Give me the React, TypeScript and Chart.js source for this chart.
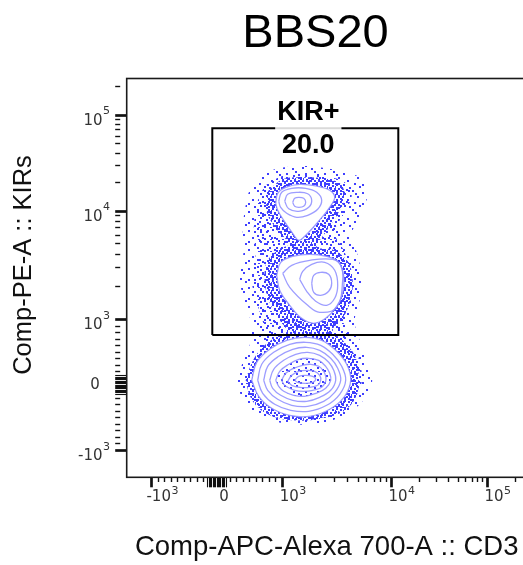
import React, { useEffect, useRef } from 'react';
import { Chart, registerables } from 'chart.js';

Chart.register(...registerables);

// ---------- Axis (biexponential display, in display channels) ----------
const AXIS_VALUES = [-1000, 0, 1000, 10000, 100000];
const AXIS_CHANNELS = [25, 90.3, 155.6, 264.3, 360.3];
const TICK_BASES = ['-10', '0', '10', '10', '10'];
const TICK_EXPONENTS = ['3', '', '3', '4', '5'];
const MINOR_TICK_VALUES = [
  -900, -800, -700, -600, -500, -400, -300, -200,
  200, 300, 400, 500, 600, 700, 800, 900,
  2000, 3000, 4000, 5000, 6000, 7000, 8000, 9000,
  20000, 30000, 40000, 50000, 60000, 70000, 80000, 90000, 200000,
];
const ZERO_BAND_TICK_VALUES = [
  -140, -120, -100, -80, -60, -40, -20, 0, 20, 40, 60, 80, 100, 120, 140,
];
const X_RANGE = [0, 400];
const Y_RANGE = [-2, 396.8];

// ---------- Texts ----------
const TITLE = 'BBS20';
const X_TITLE = 'Comp-APC-Alexa 700-A :: CD3';
const Y_TITLE = 'Comp-PE-A :: KIRs';
const GATE_NAME = 'KIR+';
const GATE_PERCENT = '20.0';

// ---------- Gate (display channels) ----------
const GATE_X = [85.6, 271.6];
const GATE_Y = [140.3, 347];

// ---------- Contours, KIR+ upper population (CD3 ch, KIR ch) ----------
const UPPER_RING_1 = [[166, 273], [168, 277], [172, 278], [177, 277], [179, 273], [177, 269], [172, 268], [168, 269]];
const UPPER_RING_2 = [[158, 274], [161, 281], [171, 283], [181, 281.5], [185, 275], [182, 268], [172, 264], [162, 266.5]];
const UPPER_RING_3 = [[152, 274], [155, 283], [165, 287], [179, 287], [190, 283], [195, 275], [191, 266], [181, 260], [170, 258], [160, 262], [154, 268]];
const UPPER_RING_4 = [[149, 272], [151, 282], [159, 288], [173, 291], [191, 289], [203, 285], [208, 278], [203, 268], [191, 253], [178, 239], [172, 235], [166, 242], [157, 255], [151, 265]];

// ---------- Contours, KIR+ middle population ----------
const MIDDLE_RING_1 = [[185, 192], [187, 200], [194, 203], [202, 201], [205, 192], [202, 184], [194, 180], [187, 183]];
const MIDDLE_RING_2 = [[173, 196], [176, 204], [185, 211], [198, 213], [208, 205], [211, 190], [208, 177], [200, 170], [189, 174], [180, 184]];
const MIDDLE_RING_3 = [[156, 202], [165, 210], [183, 215], [206, 216], [214, 210], [216, 195], [210, 168], [193, 163], [181, 170], [163, 188]];
const MIDDLE_RING_4 = [[150, 200], [154, 213], [166, 219], [183, 221], [200, 219], [212, 213], [217, 199], [216, 182], [210, 169], [199, 157], [187, 152], [175, 157], [163, 170], [153, 185]];

// ---------- Contours, KIR- population ----------
const LOWER_RING_1 = [[125, 95], [130, 113], [143, 126], [160, 135], [178, 138], [195, 135], [209, 125], [220, 111], [224, 95], [218, 79], [203, 66], [183, 59], [163, 60], [145, 67], [132, 79]];
const LOWER_RING_2 = [[131, 95], [135, 111], [147, 123], [163, 131], [179, 133], [194, 130], [206, 121], [215, 109], [219, 95], [213, 81], [200, 70], [182, 64], [164, 65], [148, 71], [136, 82]];
const LOWER_RING_3 = [[137, 95], [141, 109], [152, 119], [166, 126], [180, 128], [193, 125], [204, 117], [211, 107], [214, 95], [208, 83], [197, 74], [181, 69], [165, 70], [151, 76], [141, 85]];
const LOWER_RING_4 = [[143, 95], [147, 106], [157, 115], [169, 121], [181, 123], [193, 120], [202, 113], [207, 105], [209, 95], [204, 85], [193, 78], [180, 74], [166, 75], [154, 80], [146, 87]];
const LOWER_RING_5 = [[149, 95], [153, 104], [162, 111], [172, 116], [182, 117], [192, 115], [199, 109], [203, 102], [204, 95], [199, 87], [189, 82], [178, 79], [167, 80], [157, 84], [152, 89]];
const LOWER_RING_6 = [[155, 95], [159, 102], [167, 107], [176, 110], [184, 111], [192, 109], [197, 104], [199, 99], [199, 94], [195, 88], [186, 85], [177, 84], [168, 85], [161, 88], [157, 91]];
const LOWER_RING_7 = [[161, 94], [165, 100], [172, 104], [180, 105], [188, 104], [193, 100], [194, 95], [191, 90], [183, 88], [173, 88], [165, 90]];
const LOWER_RING_8 = [[168, 95], [172, 99], [179, 100], [186, 99], [189, 96], [186, 93], [178, 92], [171, 93]];

// ---------- Outlier event clouds (outlines of the dotted areas) ----------
const CLOUD_SPARSE = [[131, 295], [145, 305], [168, 309], [193, 308], [218, 303], [238, 295], [241, 280], [233, 260], [225, 240], [231, 220], [235, 197], [233, 175], [228, 153], [235, 130], [243, 110], [245, 90], [235, 73], [218, 60], [193, 52], [165, 51], [138, 57], [121, 70], [111, 90], [115, 110], [123, 130], [125, 150], [117, 175], [113, 200], [117, 225], [116, 247], [119, 270], [123, 285]];
const CLOUD_MEDIUM = [[139, 290], [155, 299], [175, 301], [198, 299], [218, 293], [225, 280], [218, 263], [208, 243], [218, 223], [225, 200], [223, 175], [217, 153], [225, 133], [233, 113], [235, 93], [227, 75], [211, 63], [188, 56], [163, 55], [141, 61], [127, 73], [119, 90], [123, 108], [133, 125], [138, 143], [131, 170], [125, 195], [129, 220], [127, 243], [129, 265], [133, 280]];
const CLOUD_DENSE = [[141, 284], [156, 296], [175, 298], [196, 297], [213, 292], [218, 280], [212, 263], [199, 243], [190, 228], [205, 226], [221, 214], [226, 195], [224, 175], [216, 157], [206, 145], [216, 135], [228, 120], [232, 100], [230, 80], [217, 64], [191, 56], [165, 55], [141, 61], [126, 74], [120, 93], [124, 110], [134, 126], [150, 139], [160, 144], [150, 159], [142, 175], [138, 193], [140, 213], [152, 226], [162, 231], [150, 246], [140, 263]];

// ---------- Styles ----------
const DOT_COLOR = 'rgb(62,62,255)';
const CONTOUR_COLOR = 'rgba(140,140,255,0.85)';
const SPARSE_TILE = { size: 19, dots: [[1, 2], [10, 0], [15, 6], [5, 9], [12, 12], [17, 15], [7, 16], [1, 13], [13, 3]] };
const MEDIUM_TILE = { size: 12, dots: [[2, 3], [8, 1], [5, 7], [10, 9], [0, 10], [6, 11]] };
const DENSE_TILE = { size: 8, dots: [[0, 0], [4, 1], [6, 4], [2, 4], [4, 6], [0, 7], [7, 2]] };
const SANS = '"Liberation Sans", Arial, Helvetica, sans-serif';
const TICK_FONT = '"DejaVu Sans", Verdana, sans-serif';

function toChannel(v: number): number {
  const V = AXIS_VALUES;
  const C = AXIS_CHANNELS;
  if (v <= V[2]) {
    const slope = (C[2] - C[0]) / (V[2] - V[0]);
    return C[1] + v * slope;
  }
  for (let i = 2; i < V.length - 1; i++) {
    if (v <= V[i + 1]) {
      const t = (Math.log10(v) - Math.log10(V[i])) / (Math.log10(V[i + 1]) - Math.log10(V[i]));
      return C[i] + t * (C[i + 1] - C[i]);
    }
  }
  const n = V.length - 1;
  const perDecade = (C[n] - C[n - 1]) / (Math.log10(V[n]) - Math.log10(V[n - 1]));
  return C[n] + (Math.log10(v) - Math.log10(V[n])) * perDecade;
}

const TICK_LIST = [
  ...ZERO_BAND_TICK_VALUES.map((v) => ({ value: toChannel(v), kind: 'band' })),
  ...MINOR_TICK_VALUES.map((v) => ({ value: toChannel(v), kind: 'minor' })),
  ...AXIS_VALUES.filter((v) => v !== 0).map((v) => ({ value: toChannel(v), kind: 'major' })),
].sort((a, b) => a.value - b.value);

const kindOf = (ctx: any) => (ctx && ctx.tick ? ctx.tick.kind : 'minor');

function makeGrid(length: number) {
  return {
    display: true,
    drawOnChartArea: false,
    drawTicks: true,
    tickLength: length,
    color: '#000',
    tickColor: '#111',
    tickWidth: (ctx: any) => {
      const k = kindOf(ctx);
      return k === 'major' ? 2.7 : k === 'band' ? 1.1 : 1.4;
    },
    tickBorderDash: (ctx: any) => (kindOf(ctx) === 'minor' ? [5, 40] : []),
  };
}

const decorPlugin = {
  id: 'decor',
  afterDatasetsDraw(chart: any) {
    const { ctx, scales } = chart;
    const xs = scales.x;
    const ys = scales.y;
    const gx = xs.getPixelForValue((GATE_X[0] + GATE_X[1]) / 2) + 3;
    const gy = ys.getPixelForValue(GATE_Y[1]);
    ctx.save();
    ctx.font = `bold 27px ${SANS}`;
    const w = ctx.measureText(GATE_NAME).width;
    ctx.fillStyle = 'rgba(255,255,255,0.85)';
    ctx.fillRect(gx - w / 2 - 2, gy - 29, w + 4, 31);
    ctx.fillStyle = '#000';
    ctx.textAlign = 'center';
    ctx.textBaseline = 'alphabetic';
    ctx.fillText(GATE_NAME, gx, gy - 8);
    ctx.fillText(GATE_PERCENT, gx, gy + 25);
    ctx.restore();
  },
  afterDraw(chart: any) {
    const { ctx, chartArea: a, scales } = chart;
    const xs = scales.x;
    const ys = scales.y;
    ctx.save();
    // frame
    ctx.strokeStyle = '#1a1a1a';
    ctx.lineWidth = 1.6;
    ctx.strokeRect(a.left, a.top, a.right - a.left, a.bottom - a.top);

    // title
    ctx.fillStyle = '#000';
    ctx.font = `47px ${SANS}`;
    ctx.textAlign = 'center';
    ctx.textBaseline = 'alphabetic';
    ctx.fillText(TITLE, 315.5, 47);

    // y title
    ctx.save();
    ctx.translate(31, 265);
    ctx.rotate(-Math.PI / 2);
    ctx.font = `25.5px ${SANS}`;
    ctx.fillStyle = '#111';
    ctx.fillText(Y_TITLE, 0, 0);
    ctx.restore();

    // tick labels
    ctx.fillStyle = '#333';
    ctx.textBaseline = 'middle';
    for (let i = 0; i < AXIS_VALUES.length; i++) {
      const base = TICK_BASES[i];
      const exp = TICK_EXPONENTS[i];
      // x axis
      const px = xs.getPixelForValue(AXIS_CHANNELS[i]);
      ctx.font = `15px ${TICK_FONT}`;
      ctx.textAlign = 'center';
      const bw = ctx.measureText(base).width;
      const bcx = px + 7;
      ctx.fillText(base, bcx, a.bottom + 20.2);
      if (exp) {
        ctx.font = `11px ${TICK_FONT}`;
        ctx.textAlign = 'left';
        ctx.fillText(exp, bcx + bw / 2 + 0.5, a.bottom + 14.2);
      }
      // y axis
      const py = ys.getPixelForValue(AXIS_CHANNELS[i]);
      if (exp) {
        ctx.font = `11px ${TICK_FONT}`;
        ctx.textAlign = 'right';
        const ew = ctx.measureText(exp).width;
        ctx.fillText(exp, a.left - 16.7, py - 3.5);
        ctx.font = `15px ${TICK_FONT}`;
        ctx.fillText(base, a.left - 16.7 - ew - 0.5, py + 5.7);
      } else {
        ctx.font = `15px ${TICK_FONT}`;
        ctx.textAlign = 'center';
        ctx.fillText(base, a.left - 31.7, py);
      }
    }
    ctx.restore();
  },
};

const poly = (pts: number[][]) => [...pts, pts[0]].map(([x, y]) => ({ x, y }));

export default function App() {
  const canvasRef = useRef<HTMLCanvasElement | null>(null);

  useEffect(() => {
    const canvas = canvasRef.current;
    if (!canvas) return;

    const makePattern = (tile: { size: number; dots: number[][] }) => {
      const c = document.createElement('canvas');
      c.width = tile.size;
      c.height = tile.size;
      const g = c.getContext('2d')!;
      g.fillStyle = DOT_COLOR;
      tile.dots.forEach(([x, y]) => g.fillRect(x, y, 2, 2));
      return g.createPattern(c, 'repeat')!;
    };
    const sparse = makePattern(SPARSE_TILE);
    const medium = makePattern(MEDIUM_TILE);
    const dense = makePattern(DENSE_TILE);

    const fillSet = (pts: number[][], bg: any, order: number) => ({
      data: poly(pts),
      fill: 'shape',
      backgroundColor: bg,
      borderColor: 'rgba(0,0,0,0)',
      borderWidth: 0,
      pointRadius: 0,
      tension: 0.35,
      order,
    });
    const lineSet = (pts: number[][], order: number) => ({
      data: poly(pts),
      fill: false,
      borderColor: CONTOUR_COLOR,
      borderWidth: 1.3,
      pointRadius: 0,
      tension: 0.4,
      order,
    });

    const rings = [
      UPPER_RING_1, UPPER_RING_2, UPPER_RING_3, UPPER_RING_4,
      MIDDLE_RING_1, MIDDLE_RING_2, MIDDLE_RING_3, MIDDLE_RING_4,
      LOWER_RING_1, LOWER_RING_2, LOWER_RING_3, LOWER_RING_4,
      LOWER_RING_5, LOWER_RING_6, LOWER_RING_7, LOWER_RING_8,
    ];

    const gate = [
      [GATE_X[0], GATE_Y[0]], [GATE_X[1], GATE_Y[0]],
      [GATE_X[1], GATE_Y[1]], [GATE_X[0], GATE_Y[1]],
    ];

    const datasets: any[] = [
      fillSet(CLOUD_SPARSE, sparse, 30),
      fillSet(CLOUD_MEDIUM, medium, 29),
      fillSet(CLOUD_DENSE, dense, 28),
      fillSet(UPPER_RING_4, '#fff', 20),
      fillSet(MIDDLE_RING_4, '#fff', 20),
      fillSet(LOWER_RING_1, '#fff', 20),
      fillSet(LOWER_RING_5, medium, 15),
      ...rings.map((r) => lineSet(r, 10)),
      {
        data: poly(gate),
        fill: false,
        borderColor: '#000',
        borderWidth: 2,
        pointRadius: 0,
        tension: 0,
        order: 1,
      },
    ];

    const chart = new Chart(canvas, {
      type: 'line',
      data: { datasets },
      plugins: [decorPlugin],
      options: {
        responsive: false,
        animation: false,
        events: [],
        layout: { padding: { top: 78.5, right: 13.3, bottom: 0, left: 0 } },
        plugins: {
          legend: { display: false },
          tooltip: { enabled: false },
          title: { display: false },
        },
        scales: {
          x: {
            type: 'linear',
            position: 'bottom',
            min: X_RANGE[0],
            max: X_RANGE[1],
            afterBuildTicks: (axis: any) => {
              axis.ticks = TICK_LIST.map((t) => ({ value: t.value, kind: t.kind }));
            },
            afterFit: (axis: any) => {
              axis.height = 87.7;
            },
            ticks: { display: false, autoSkip: false, callback: () => '' },
            grid: makeGrid(10) as any,
            border: { display: false },
            title: {
              display: true,
              text: X_TITLE,
              color: '#111',
              font: { family: SANS, size: 27.5 },
              padding: { top: 0, bottom: 1.2 },
            },
          },
          y: {
            type: 'linear',
            position: 'left',
            min: Y_RANGE[0],
            max: Y_RANGE[1],
            afterBuildTicks: (axis: any) => {
              axis.ticks = TICK_LIST.map((t) => ({ value: t.value, kind: t.kind }));
            },
            afterFit: (axis: any) => {
              axis.width = 126.7;
            },
            ticks: { display: false, autoSkip: false, callback: () => '' },
            grid: makeGrid(11.5) as any,
            border: { display: false },
            title: { display: false },
          },
        },
      } as any,
    });

    return () => chart.destroy();
  }, []);

  return (
    <div
      style={{
        position: 'fixed',
        left: 0,
        top: 0,
        width: 523,
        height: 565,
        overflow: 'hidden',
        background: '#fff',
      }}
    >
      <canvas ref={canvasRef} width={540} height={565} style={{ display: 'block' }} />
    </div>
  );
}
